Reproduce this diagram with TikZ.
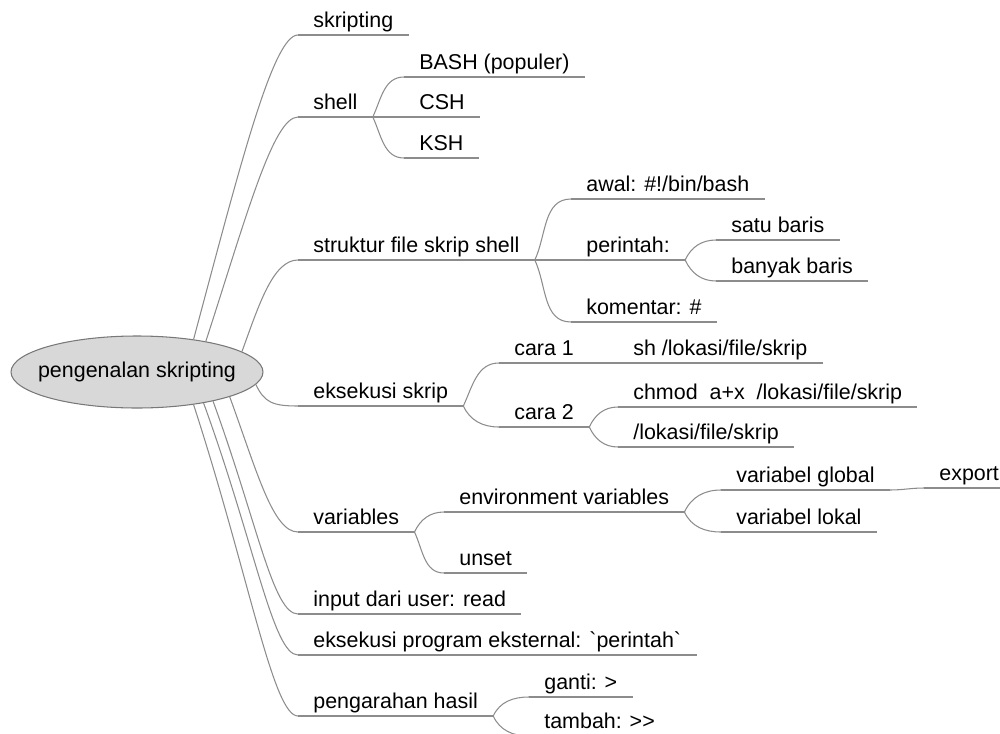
\documentclass[tikz,border=0pt]{standalone}
\usepackage{fontspec}
\setmainfont{Liberation Sans}
\usepackage{tikz}
\usetikzlibrary{shapes.geometric, positioning, calc}

\definecolor{linegray}{RGB}{140,140,140}
\definecolor{rootfill}{RGB}{216,216,216}
\definecolor{rootline}{RGB}{120,120,120}

\begin{document}
\begin{tikzpicture}[
  font=\fontsize{12.2}{14}\selectfont,
  root/.style={ellipse, draw=rootline, fill=rootfill, line width=0.6pt, minimum width=5.04cm, minimum height=1.44cm, inner xsep=-0.2cm, inner ysep=0pt},
  topic/.style={anchor=south west, inner xsep=0.3cm, inner ysep=1.6pt, text height=1.6ex, text depth=0.25em},
  link/.style={draw=linegray, line width=0.6pt},
]
\useasboundingbox (0,0) rectangle (20,-14.66);

% Root
\node[root] (root) at (2.74,-7.44) {pengenalan skripting};

% Main branches
\node[topic] (skr) at (5.96,-0.70) {skripting};
\node[topic] (shl) at (5.96,-2.34) {shell};
\node[topic] (str) at (5.96,-5.20) {struktur file skrip shell};
\node[topic] (eks) at (5.96,-8.12) {eksekusi skrip};
\node[topic] (var) at (5.96,-10.64) {variables};
\node[topic] (inp) at (5.96,-12.28) {input dari user: read};
\node[topic] (prog) at (5.96,-13.10) {eksekusi program eksternal: \textasciigrave perintah\textasciigrave};
\node[topic] (arah) at (5.96,-14.32) {pengarahan hasil};

% Shell
\node[topic] (bash) at (8.08,-1.54) {BASH (populer)};
\node[topic] (csh) at (8.08,-2.34) {CSH};
\node[topic] (ksh) at (8.08,-3.16) {KSH};

% Struktur file
\node[topic] (awal) at (11.42,-3.98) {awal: \#!/bin/bash};
\node[topic] (per) at (11.42,-5.20) {perintah:};
\node[topic] (satu) at (14.32,-4.80) {satu baris};
\node[topic] (bnyk) at (14.32,-5.62) {banyak baris};
\node[topic] (kom) at (11.42,-6.44) {komentar: \#};

% Eksekusi
\node[topic] (cr1) at (9.98,-7.26) {cara 1};
\node[topic] (shlok) at (12.36,-7.26) {sh /lokasi/file/skrip};
\node[topic] (cr2) at (9.98,-8.54) {cara 2};
\node[topic] (chm) at (12.36,-8.14) {chmod~~a+x~~/lokasi/file/skrip};
\node[topic] (lok) at (12.36,-8.94) {/lokasi/file/skrip};

% Variables
\node[topic] (env) at (8.88,-10.24) {environment variables};
\node[topic] (vglob) at (14.42,-9.80) {variabel global};
\node[topic] (expt) at (18.48,-9.76) {export};
\node[topic] (vlok) at (14.42,-10.64) {variabel lokal};
\node[topic] (uns) at (8.88,-11.46) {unset};

% Pengarahan
\node[topic] (gnt) at (10.58,-13.94) {ganti: >};
\node[topic] (tmb) at (10.58,-14.72) {tambah: >{}>};

% Underlines
\foreach \n in {skr,shl,str,eks,var,inp,prog,arah,bash,csh,ksh,awal,per,satu,bnyk,kom,cr1,shlok,cr2,chm,lok,env,vglob,expt,vlok,uns,gnt,tmb}{
  \draw[link] (\n.south west) -- (\n.south east);
}

% Root to main branches
\foreach \name/\ang/\dir/\len in {skr/30/75/3.6, shl/24/72/2.6, str/11/70/1.0, eks/-6/-65/0.4, var/-15/-70/1.6, inp/-21/-70/2.6, prog/-25/-70/3.0, arah/-30/-72/3.6}{
  \draw[link] (root.\ang) .. controls +(\dir:\len) and +(-0.5,0) .. (\name.south west);
}

% Sub branches
\foreach \from/\to/\dir in {shl/bash/65, shl/csh/0, shl/ksh/-65, str/awal/65, str/per/0, str/kom/-65, per/satu/65, per/bnyk/-65, eks/cr1/65, eks/cr2/-65, cr1/shlok/0, cr2/chm/65, cr2/lok/-65, var/env/65, var/uns/-65, env/vglob/65, env/vlok/-65, vglob/expt/0, arah/gnt/65, arah/tmb/-65}{
  \draw[link] (\from.south east) to[out=\dir,in=180] (\to.south west);
}
\end{tikzpicture}
\end{document}
